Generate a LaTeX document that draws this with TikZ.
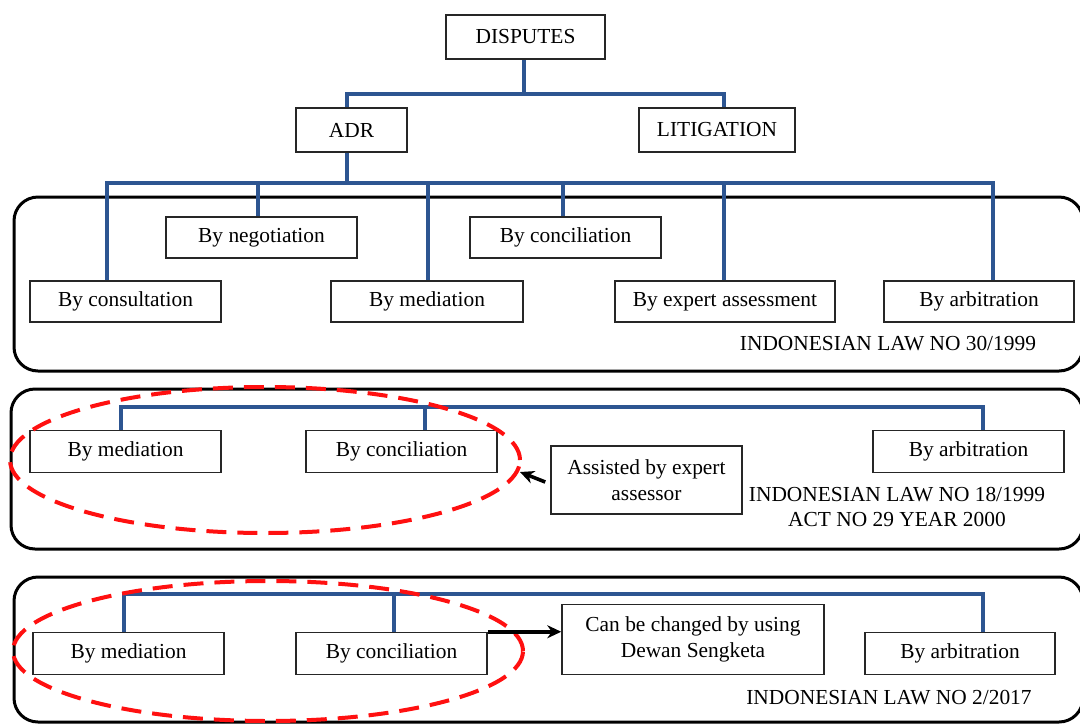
\documentclass[tikz,border=0pt]{standalone}
\usepackage{fontspec}
\setmainfont{Liberation Serif}
\usetikzlibrary{arrows.meta,shapes.geometric}
\definecolor{tree}{HTML}{2D5591}
\definecolor{ellred}{HTML}{FF1010}
\begin{document}
\begin{tikzpicture}[x=1pt,y=-1pt,
  font=\fontsize{21.4}{25.5}\selectfont,
  box/.style={draw=black!85, line width=1.5, fill=white, inner sep=0, align=center},
  sz/.style 2 args={minimum width=#1, minimum height=#2},
  panel/.style={draw=black, line width=3, rounded corners=24},
  link/.style={draw=tree, line width=3.2},
  ring/.style={draw=ellred, line width=4, dash pattern=on 20 off 11, ellipse, inner sep=0},
  pointer/.style={draw=black, line width=3.6, -{Stealth[length=14,width=13]}},
  lawtext/.style={inner sep=0, align=center}]
\useasboundingbox (0,0) rectangle (1080,724);

% panels
\draw[panel] (14,197) rectangle (1083,371);
\draw[panel] (11,389) rectangle (1083,549);
\draw[panel] (14,577) rectangle (1083,722);

% junction coordinates
\coordinate (t0) at (524,94);
\coordinate (ta) at (347,94);
\coordinate (tl) at (724,94);
\coordinate (tb) at (347,183);
\coordinate (d1) at (107,183);
\coordinate (d2) at (258,183);
\coordinate (d3) at (428,183);
\coordinate (d4) at (563,183);
\coordinate (d5) at (724,183);
\coordinate (d6) at (993,183);
\coordinate (e1) at (121,407);
\coordinate (e2) at (425,407);
\coordinate (e3) at (983,407);
\coordinate (f1) at (124,594);
\coordinate (f2) at (394,594);
\coordinate (f3) at (983,594);

% top tree
\node[box, sz={159}{44}] (disputes) at (525.5,37) {DISPUTES};
\node[box, sz={111}{44}] (adr) at (351.5,130) {ADR};
\node[box, sz={156}{44}] (lit) at (717,130) {LITIGATION};

% panel 1 boxes
\node[box, sz={191}{41}] (neg) at (261.5,237.5) {By negotiation};
\node[box, sz={191}{41}] (con1) at (565.5,237.5) {By conciliation};
\node[box, sz={191}{41}] (cons) at (125.5,301.5) {By consultation};
\node[box, sz={192}{41}] (med1) at (427,301.5) {By mediation};
\node[box, sz={220}{41}] (exp) at (725,301.5) {By expert assessment};
\node[box, sz={190}{41}] (arb1) at (979,301.5) {By arbitration};
\node[lawtext] (law1) at (888,344) {INDONESIAN LAW NO 30/1999};

% panel 2 boxes
\node[box, sz={191}{42}] (med2) at (125.5,451.5) {By mediation};
\node[box, sz={191}{42}] (con2) at (401.5,451.5) {By conciliation};
\node[box, sz={191}{42}] (arb2) at (968.5,451.5) {By arbitration};
\node[box, sz={191}{68}] (assist) at (646.5,480) {Assisted by expert\\assessor};
\node[lawtext] (law2) at (897,507) {INDONESIAN LAW NO 18/1999\\ACT NO 29 YEAR 2000};

% panel 3 boxes
\node[box, sz={191}{42}] (med3) at (128.5,653.5) {By mediation};
\node[box, sz={191}{42}] (con3) at (391.5,653.5) {By conciliation};
\node[box, sz={262}{70}] (can) at (693,639.5) {Can be changed by using\\Dewan Sengketa};
\node[box, sz={190}{42}] (arb3) at (960,653.5) {By arbitration};
\node[lawtext] (law3) at (889,698) {INDONESIAN LAW NO 2/2017};

% connectors: top tree
\draw[link] (disputes.south -| t0) -- (t0);
\draw[link] (adr.north -| ta) |- (tl) -- (tl |- lit.north);
\draw[link] (adr.south -| tb) -- (tb);
\draw[link] (cons.north -| d1) |- (d6) -- (d6 |- arb1.north);
\draw[link] (d2) -- (d2 |- neg.north);
\draw[link] (d3) -- (d3 |- med1.north);
\draw[link] (d4) -- (d4 |- con1.north);
\draw[link] (d5) -- (d5 |- exp.north);

% connectors: panel 2
\draw[link] (med2.north -| e1) |- (e3) -- (e3 |- arb2.north);
\draw[link] (e2) -- (e2 |- con2.north);

% connectors: panel 3
\draw[link] (med3.north -| f1) |- (f3) -- (f3 |- arb3.north);
\draw[link] (f2) -- (f2 |- con3.north);

% red dashed rings
\node[ring, sz={510}{146}] (ring2) at (265,460) {};
\node[ring, sz={510}{140}] (ring3) at (268,651) {};

% arrows
\coordinate (tip2) at (520,472);
\draw[pointer] (assist.west) ++(-5,2) coordinate (a2) (a2) -- (tip2);
\draw[pointer] (con3.north east) -- (con3.north east -| can.west);
\end{tikzpicture}
\end{document}
